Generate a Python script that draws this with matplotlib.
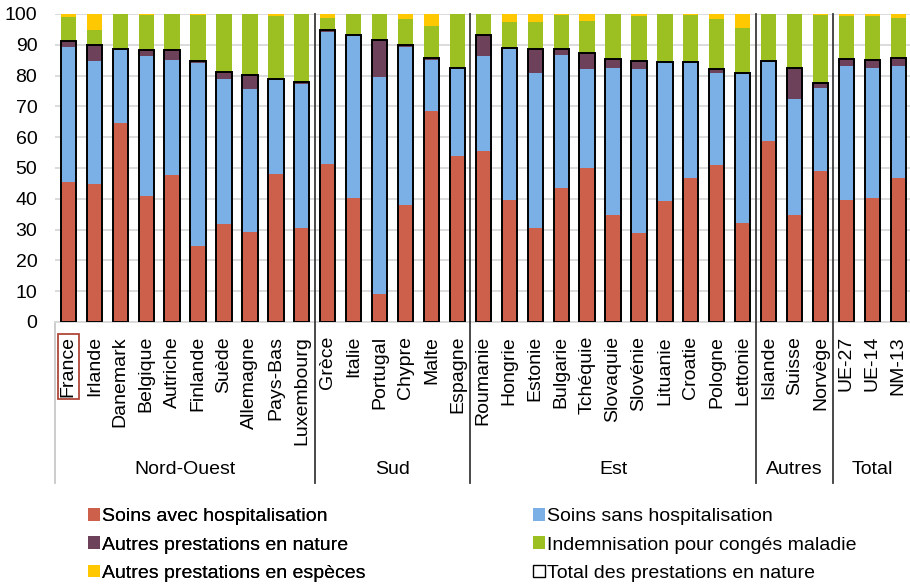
import matplotlib
matplotlib.use("Agg")
import matplotlib.pyplot as plt
import matplotlib.transforms as mtransforms
from matplotlib.patches import Patch
import numpy as np

plt.rcParams['font.family'] = ['Liberation Sans', 'DejaVu Sans']

countries = ["France", "Irlande", "Danemark", "Belgique", "Autriche", "Finlande", "Suède",
             "Allemagne", "Pays-Bas", "Luxembourg",
             "Grèce", "Italie", "Portugal", "Chypre", "Malte", "Espagne",
             "Roumanie", "Hongrie", "Estonie", "Bulgarie", "Tchéquie", "Slovaquie", "Slovénie",
             "Lituanie", "Croatie", "Pologne", "Lettonie",
             "Islande", "Suisse", "Norvège",
             "UE-27", "UE-14", "NM-13"]
groups = ["Nord-Ouest", "Sud", "Est", "Autres", "Total"]
group_sizes = [10, 6, 11, 3, 3]

soins_hosp = [45.4, 44.7, 64.5, 41.0, 47.6, 24.8, 31.9, 29.3, 48.0, 30.4,
              51.4, 40.2, 9.0, 37.9, 68.5, 54.0,
              55.4, 39.7, 30.6, 43.4, 49.9, 34.9, 28.8, 39.2, 46.7, 51.1, 32.0,
              58.7, 34.6, 49.1,
              39.5, 40.2, 46.7]
soins_sans = [43.8, 40.0, 23.8, 45.3, 37.4, 59.3, 47.1, 46.2, 30.7, 46.8,
              42.6, 53.0, 70.5, 51.4, 16.7, 28.4,
              31.0, 49.0, 50.4, 43.2, 32.2, 47.7, 53.3, 45.1, 37.6, 29.6, 48.5,
              25.7, 37.9, 26.9,
              43.7, 42.3, 36.5]
autres_nature = [1.9, 5.1, 0.2, 1.9, 3.2, 0.7, 2.2, 4.8, 0.2, 0.7,
                 0.9, 0.1, 12.2, 0.5, 0.4, 0.1,
                 6.9, 0.3, 7.6, 2.0, 5.1, 2.7, 2.6, 0.2, 0.2, 1.5, 0.2,
                 0.2, 9.9, 1.7,
                 2.3, 2.6, 2.6]
indemn = [8.0, 5.0, 11.5, 11.6, 11.8, 15.0, 18.8, 19.7, 20.3, 22.1,
          3.9, 6.7, 8.3, 8.7, 10.4, 17.5,
          6.7, 8.5, 8.9, 11.2, 10.6, 14.7, 14.5, 15.5, 15.3, 16.3, 14.8,
          15.4, 17.6, 22.1,
          14.0, 14.4, 12.8]
autres_especes = [0.9, 5.2, 0.0, 0.2, 0.0, 0.2, 0.0, 0.0, 0.8, 0.0,
                  1.2, 0.0, 0.0, 1.5, 4.0, 0.0,
                  0.0, 2.5, 2.5, 0.2, 2.2, 0.0, 0.8, 0.0, 0.2, 1.5, 4.5,
                  0.0, 0.0, 0.2,
                  0.5, 0.5, 1.4]

labels = ["Soins avec hospitalisation", "Soins sans hospitalisation",
          "Autres prestations en nature", "Indemnisation pour congés maladie",
          "Autres prestations en espèces", "Total des prestations en nature"]
colors = ["#CD604A", "#7BB0E6", "#6C4159", "#9CBF22", "#FFC800"]

W, H = 910, 584
fig = plt.figure(figsize=(W / 100, H / 100), dpi=100)
ax_left, ax_right, ax_top, ax_bottom = 55.4, 910, 14, 322
ax = fig.add_axes([ax_left / W, 1 - ax_bottom / H, (ax_right - ax_left) / W, (ax_bottom - ax_top) / H])

x = np.arange(len(countries))
bw = 0.59
series = [soins_hosp, soins_sans, autres_nature, indemn, autres_especes]
bottom = np.zeros(len(countries))
for vals, col in zip(series, colors):
    v = np.array(vals)
    ax.bar(x, v, bw, bottom=bottom, color=col, linewidth=0, zorder=2)
    bottom += v

total_nature = np.array(soins_hosp) + np.array(soins_sans) + np.array(autres_nature)
ax.bar(x, total_nature, bw, facecolor="none", edgecolor="black", linewidth=1.4, zorder=3)

ax.set_ylim(0, 100)
ax.set_xlim(-0.5, 32.45)
ax.set_yticks(np.arange(0, 101, 10))
ax.yaxis.grid(True, color="#D9D9D9", linewidth=1.3, zorder=0)
ax.set_axisbelow(True)
for s in ["top", "right", "left"]:
    ax.spines[s].set_visible(False)
ax.spines["bottom"].set_color("#D9D9D9")
ax.spines["bottom"].set_linewidth(1.3)
ax.tick_params(axis="y", length=0, pad=13, labelsize=14)
ax.set_xticks(x)
ax.set_xticklabels(countries, rotation=90, fontsize=14, va="top")
ax.tick_params(axis="x", length=0, pad=10)

tl = ax.get_xticklabels()[0]
tl.set_bbox(dict(facecolor="none", edgecolor="#B0473A", linewidth=1.3, boxstyle="square,pad=0.12"))

trans = mtransforms.blended_transform_factory(ax.transData, ax.transAxes)
low = (ax_bottom - 483) / (ax_bottom - ax_top)
ax.plot([-0.5, -0.5], [0, low], transform=trans, color="#C8C8C8", lw=1.3, clip_on=False)
pos = -0.5
centers = []
for gsize in group_sizes:
    centers.append(pos + gsize / 2)
    pos += gsize
    if pos < len(countries) - 0.5:
        ax.plot([pos, pos], [1, low], transform=trans, color="#3A3A3A", lw=1.3, clip_on=False, zorder=4)
gy = (ax_bottom - 470) / (ax_bottom - ax_top)
for g, c in zip(groups, centers):
    ax.text(c, gy, g, transform=trans, ha="center", va="center", fontsize=14)

handles = [Patch(facecolor=c, edgecolor="none") for c in colors]
handles.append(Patch(facecolor="white", edgecolor="black", linewidth=1.0))
left_idx = [0, 2, 4]
right_idx = [1, 3, 5]
common = dict(frameon=False, fontsize=14, handlelength=0.62, handleheight=0.62,
              handletextpad=0.12, labelspacing=0.58, borderpad=0, borderaxespad=0, loc="upper left")
leg1 = fig.legend([handles[i] for i in left_idx], [labels[i] for i in left_idx],
                  bbox_to_anchor=(88 / W, 1 - 508 / H), **common)
fig.add_artist(leg1)
leg2 = fig.legend([handles[i] for i in right_idx], [labels[i] for i in right_idx],
                  bbox_to_anchor=(533 / W, 1 - 508 / H), **common)

fig.savefig("out.png", dpi=100)
